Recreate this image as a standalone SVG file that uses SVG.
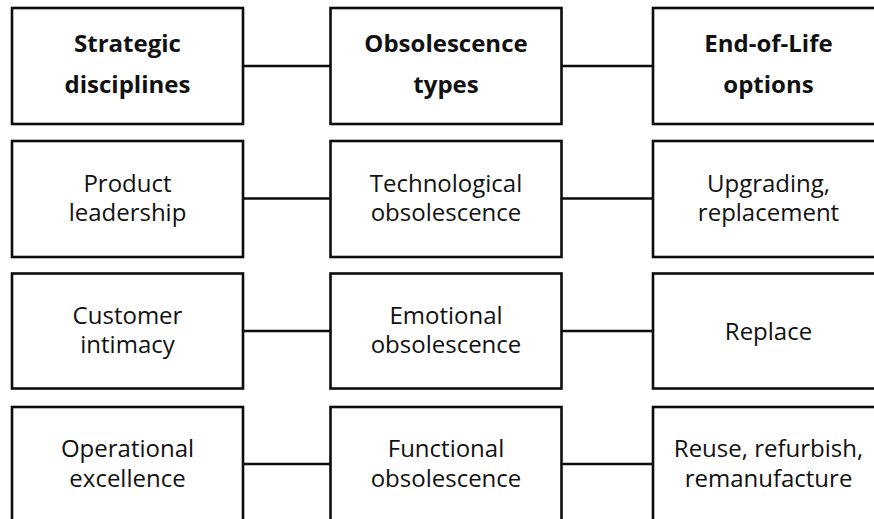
<svg xmlns="http://www.w3.org/2000/svg" width="874" height="519" viewBox="0 0 874 519">
  <style>
    .box { fill: #ffffff; stroke: #0d0d0d; stroke-width: 2.6; }
    .link { stroke: #0d0d0d; stroke-width: 2.6; fill: none; }
    text { font-family: "Open Sans", "Noto Sans", "Liberation Sans", sans-serif; font-size: 24px; fill: #111111; text-anchor: middle; }
    .head { font-weight: bold; }
  </style>

  <!-- connectors between the three columns -->
  <g id="connectors">
    <line class="link" x1="243" y1="66" x2="330.5" y2="66"/>
    <line class="link" x1="561.5" y1="66" x2="653" y2="66"/>
    <line class="link" x1="243" y1="198.5" x2="330.5" y2="198.5"/>
    <line class="link" x1="561.5" y1="198.5" x2="653" y2="198.5"/>
    <line class="link" x1="243" y1="331" x2="330.5" y2="331"/>
    <line class="link" x1="561.5" y1="331" x2="653" y2="331"/>
    <line class="link" x1="243" y1="464" x2="330.5" y2="464"/>
    <line class="link" x1="561.5" y1="464" x2="653" y2="464"/>
  </g>

  <!-- header row -->
  <g id="strategic-disciplines">
    <rect class="box" x="12" y="8" width="231" height="116"/>
    <text class="head" x="127.5" y="52">Strategic</text>
    <text class="head" x="127.5" y="93">disciplines</text>
  </g>
  <g id="obsolescence-types">
    <rect class="box" x="330.5" y="8" width="231" height="116"/>
    <text class="head" x="446" y="52">Obsolescence</text>
    <text class="head" x="446" y="93">types</text>
  </g>
  <g id="end-of-life-options">
    <rect class="box" x="653" y="8" width="231" height="116"/>
    <text class="head" x="768.5" y="52">End-of-Life</text>
    <text class="head" x="768.5" y="93">options</text>
  </g>

  <!-- row 1 -->
  <g id="product-leadership">
    <rect class="box" x="12" y="141" width="231" height="116"/>
    <text x="127.5" y="192">Product</text>
    <text x="127.5" y="221">leadership</text>
  </g>
  <g id="technological-obsolescence">
    <rect class="box" x="330.5" y="141" width="231" height="116"/>
    <text x="446" y="192">Technological</text>
    <text x="446" y="221">obsolescence</text>
  </g>
  <g id="upgrading-replacement">
    <rect class="box" x="653" y="141" width="231" height="116"/>
    <text x="768.5" y="192">Upgrading,</text>
    <text x="768.5" y="221">replacement</text>
  </g>

  <!-- row 2 -->
  <g id="customer-intimacy">
    <rect class="box" x="12" y="273.5" width="231" height="115"/>
    <text x="127.5" y="324">Customer</text>
    <text x="127.5" y="353">intimacy</text>
  </g>
  <g id="emotional-obsolescence">
    <rect class="box" x="330.5" y="273.5" width="231" height="115"/>
    <text x="446" y="324">Emotional</text>
    <text x="446" y="353">obsolescence</text>
  </g>
  <g id="replace">
    <rect class="box" x="653" y="273.5" width="231" height="115"/>
    <text x="768.5" y="340">Replace</text>
  </g>

  <!-- row 3 -->
  <g id="operational-excellence">
    <rect class="box" x="12" y="407" width="231" height="116"/>
    <text x="127.5" y="457">Operational</text>
    <text x="127.5" y="487">excellence</text>
  </g>
  <g id="functional-obsolescence">
    <rect class="box" x="330.5" y="407" width="231" height="116"/>
    <text x="446" y="457">Functional</text>
    <text x="446" y="487">obsolescence</text>
  </g>
  <g id="reuse-refurbish-remanufacture">
    <rect class="box" x="653" y="407" width="231" height="116"/>
    <text x="768.5" y="457">Reuse, refurbish,</text>
    <text x="768.5" y="487">remanufacture</text>
  </g>
</svg>
